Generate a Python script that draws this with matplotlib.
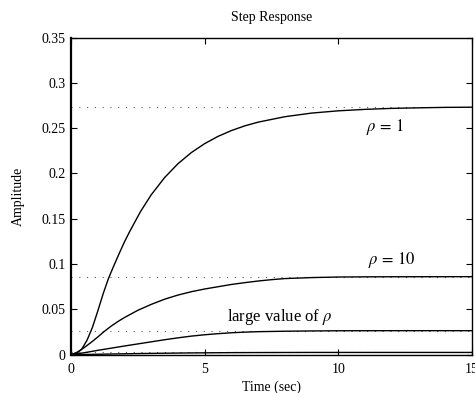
import matplotlib
matplotlib.use("Agg")
import matplotlib.pyplot as plt

# ---- data ----
t_rho1 = [0, 0.2, 0.4, 0.6, 0.8, 1.0, 1.2, 1.4, 1.6, 1.8, 2.0, 2.2, 2.6, 3.0, 3.5,
          4.0, 4.5, 5.0, 5.5, 6.0, 6.5, 7.0, 8.0, 9.0, 10.0, 11.0, 12.0, 13.0, 14.0, 15.0]
v_rho1 = [0, 0.0015, 0.006, 0.016, 0.030, 0.048, 0.067, 0.084, 0.098, 0.1115, 0.1245,
          0.1362, 0.1579, 0.1764, 0.1954, 0.2107, 0.2230, 0.2329, 0.2409, 0.2473,
          0.2525, 0.2566, 0.2626, 0.2666, 0.2691, 0.2707, 0.2718, 0.2724, 0.2729, 0.2731]

t_rho10 = [0, 0.25, 0.5, 0.75, 1.0, 1.25, 1.5, 1.75, 2.0, 2.5, 3.0, 3.5, 4.0, 4.5, 5.0,
           5.5, 6.0, 6.5, 7.0, 7.5, 8.0, 9.0, 10.0, 11.0, 12.0, 15.0]
v_rho10 = [0, 0.003, 0.008, 0.0135, 0.0195, 0.0258, 0.0315, 0.0365, 0.041, 0.049, 0.0555,
           0.0612, 0.0658, 0.0695, 0.0725, 0.0750, 0.0775, 0.0795, 0.0813, 0.0828,
           0.0840, 0.0851, 0.0857, 0.0859, 0.0860, 0.0861]

t_large = [0, 0.5, 1.0, 1.5, 2.0, 2.5, 3.0, 3.5, 4.0, 4.5, 5.0, 5.5, 6.0, 6.5, 7.0,
           8.0, 9.0, 10.0, 12.0, 15.0]
v_large = [0, 0.0022, 0.0048, 0.0072, 0.0096, 0.0119, 0.0142, 0.0165, 0.0186, 0.0205,
           0.0220, 0.0232, 0.0242, 0.0249, 0.0254, 0.0259, 0.0262, 0.0264, 0.0265, 0.0265]

t_huge = [0, 0.64, 1.39, 2.39, 3.39, 4.27, 5.15, 6.1, 7.36, 9.0, 15]
v_huge = [0, 0.0003, 0.0007, 0.0012, 0.0016, 0.0019, 0.0021, 0.0023, 0.0024, 0.0025, 0.0025]

steady_values = [0.2737, 0.0861, 0.0265, 0.0025]

x_ticks = [0, 5, 10, 15]
y_ticks = [0, 0.05, 0.1, 0.15, 0.2, 0.25, 0.3, 0.35]
x_range = [0, 15]

labels = [r"$\rho\,=\,1$", r"$\rho\,=\,10$", r"large value of $\rho$"]
label_pos = [(11.73, 0.2513), (12.01, 0.1045), (7.82, 0.0420)]

# ---- styling ----
plt.rcParams["font.family"] = ["Liberation Serif", "DejaVu Serif"]
plt.rcParams["mathtext.fontset"] = "stix"

fig = plt.figure(figsize=(4.75, 3.93), dpi=100)
ax = fig.add_axes([71 / 475, 1 - 354.7 / 393, 401 / 475, 317.2 / 393])

for sv in steady_values:
    ax.plot(x_range, [sv, sv], color="0.35", linestyle=(0, (1, 6)), lw=0.8)

for t, v in [(t_rho1, v_rho1), (t_rho10, v_rho10), (t_large, v_large), (t_huge, v_huge)]:
    ax.plot(t, v, color="black", lw=1.0)

for txt, (x, y) in zip(labels, label_pos):
    ax.text(x, y, txt, fontsize=12, ha="center", va="center")

ax.set_xlim(0, 15)
ax.set_ylim(0, 0.35)
ax.set_xticks(x_ticks)
ax.set_yticks(y_ticks)
ax.set_xticklabels([str(v) for v in x_ticks])
ax.set_yticklabels(["0", "0.05", "0.1", "0.15", "0.2", "0.25", "0.3", "0.35"])
ax.tick_params(direction="in", top=True, right=True, length=4, width=0.8,
               labelsize=10, pad=4)
ax.tick_params(axis="x", pad=6)
for s in ax.spines.values():
    s.set_linewidth(1.0)
ax.spines["left"].set_linewidth(1.6)

ax.set_title("Step Response", fontsize=10, pad=12)
ax.set_xlabel("Time (sec)", fontsize=10, labelpad=3)
ax.set_ylabel("Amplitude", fontsize=10, labelpad=12)

fig.savefig("out.png", dpi=100)
